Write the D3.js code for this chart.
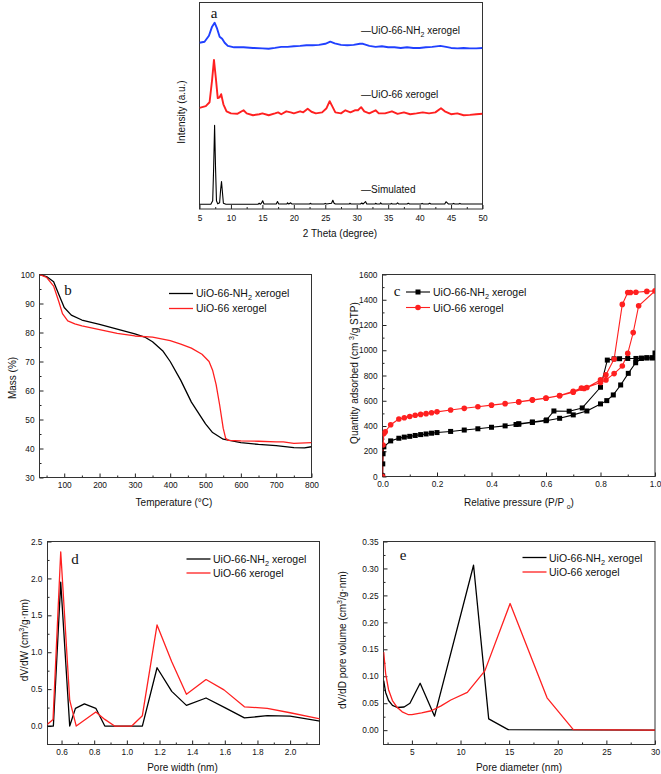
<!DOCTYPE html>
<html><head><meta charset="utf-8">
<script src="https://cdn.jsdelivr.net/npm/d3@7"></script>
<style>
body{margin:0;background:#fff}
text{font-family:"Liberation Sans",Arial,sans-serif;fill:#111}
text.serif{font-family:"Liberation Serif","Times New Roman",serif}
</style>
</head><body>
<svg id="chart" width="661" height="774"></svg>
<script>
// ---------- DATA ----------
// (a) XRD, 2 Theta (degree) vs intensity (a.u.)
const xrdTicks = [5,10,15,20,25,30,35,40,45,50];
const xrdSimulated = [[5,23],[6.8,23],[7.1,40],[7.25,200],[7.4,405],[7.55,200],[7.7,40],[7.9,25],[8.2,30],[8.35,90],[8.5,133],[8.65,80],[8.8,28],[9.2,23],[14.3,23],[14.5,28],[14.7,23],[14.85,28],[15.05,40],[15.25,24],[17.2,24],[17.4,36],[17.6,24],[18.9,24],[19.0,30],[19.2,24],[19.5,30],[19.7,24],[22.5,24],[22.6,28],[22.8,24],[24.8,24],[25.0,27],[25.2,24],[26.0,28],[26.2,42],[26.4,28],[26.6,24],[28.8,24],[28.9,28],[29.1,24],[30.6,24],[30.8,29],[31.0,24],[31.2,30],[31.4,36],[31.6,24],[32.9,24],[33.0,28],[33.2,24],[33.7,24],[33.8,30],[34.0,24],[35.4,24],[35.5,27],[35.7,24],[36.3,24],[36.5,30],[36.7,24],[38.0,24],[38.2,28],[38.4,24],[40.2,24],[40.4,27],[40.6,24],[41.4,24],[41.6,28],[41.8,24],[44.0,24],[44.2,35],[44.4,30],[44.6,24],[45.2,24],[45.4,27],[45.6,24],[46.2,24],[46.4,27],[46.6,24],[50,24]];
const xrdUiO66 = [[5,490],[6,498],[6.6,517],[7.0,624],[7.3,722],[7.6,634],[7.9,537],[8.2,541],[8.45,556],[8.8,507],[9.3,473],[10,463],[11,461],[12,478],[12.5,463],[13.5,454],[14.5,459],[15,463],[16,454],[17,463],[17.5,468],[18,459],[18.8,473],[19.5,468],[20,463],[21,473],[21.5,468],[22.2,485],[22.8,471],[23.5,463],[24.5,468],[25.2,488],[25.7,522],[26.1,498],[26.6,468],[27.5,463],[28.2,478],[29,468],[29.7,478],[30.2,478],[30.7,493],[31.2,473],[32,463],[33,478],[33.5,463],[34.5,463],[35.6,473],[36.5,461],[37.5,468],[38.5,459],[39.5,463],[40.5,468],[41.5,463],[42.5,468],[43.4,488],[44,473],[45,459],[46,463],[47,454],[48,456],[49,459],[50,461]];
const xrdUiO66NH2 = [[5,805],[5.8,810],[6.5,839],[7.0,883],[7.4,902],[7.8,873],[8.2,834],[8.6,824],[9.0,805],[9.5,790],[10.5,783],[12,783],[13.5,780],[15,778],[16,776],[17,780],[18,785],[19,785],[20,788],[21,790],[22,793],[23,793],[24,795],[25,800],[25.8,810],[26.5,802],[27.5,795],[28.5,793],[29.5,795],[30.5,800],[31,800],[32,790],[33,785],[34,788],[35,783],[36,783],[37,780],[38,783],[39,780],[40,780],[41,783],[42,785],[43.3,790],[44.2,785],[45,780],[46,778],[47,780],[48,778],[49,778],[50,780]];

// (b) TGA, temperature (°C) vs mass (%)
const tgaXTicks = [100,200,300,400,500,600,700,800];
const tgaYTicks = [30,40,50,60,70,80,90,100];
const tgaNH2 = [[30,100],[50,99.3],[70,97.5],[85,93],[100,88.6],[120,86],[150,84.3],[200,82.8],[250,81.2],[300,79.5],[330,78.3],[350,76.8],[380,73.5],[400,70],[430,63.5],[460,56],[500,48.5],[520,45.5],[550,43.2],[600,42],[650,41.4],[700,41.0],[750,40.3],[780,40.2],[800,40.6]];
const tgaUiO66 = [[30,100],[50,99],[70,96],[85,90.5],[95,86.5],[110,84],[130,83],[150,82.3],[200,81],[250,79.7],[300,78.8],[350,78.4],[400,77.2],[430,76],[460,74.6],[490,72.5],[510,70],[520,67],[530,62],[540,55],[550,47],[557,43.5],[565,42.8],[600,42.6],[650,42.5],[700,42.3],[720,42.3],[750,41.8],[800,42.0]];

// (c) N2 isotherms, relative pressure vs quantity adsorbed
const isoXTicks = [0,0.2,0.4,0.6,0.8,1.0];
const isoYTicks = [0,200,400,600,800,1000,1200,1400,1600];
const isoNH2 = [[0.0005,5],[0.001,100],[0.002,180],[0.005,235],[0.03,282],[0.06,303],[0.08,312],[0.1,318],[0.12,325],[0.14,332],[0.16,337],[0.18,343],[0.2,348],[0.25,357],[0.3,368],[0.35,378],[0.4,390],[0.45,401],[0.49,412],[0.5,414],[0.55,428],[0.6,442],[0.65,461],[0.7,488],[0.75,519],[0.8,575],[0.823,601],[0.847,646],[0.874,725],[0.902,817],[0.929,901],[0.95,935],[0.97,940],[0.99,940],[1.0,978],[0.99,940],[0.97,940],[0.95,938],[0.93,935],[0.9,935],[0.87,933],[0.85,932],[0.825,922],[0.8,707],[0.733,543],[0.685,517],[0.629,519],[0.602,448],[0.55,432],[0.5,418]];
const isoUiO66 = [[0.0005,0],[0.002,250],[0.005,340],[0.01,355],[0.03,410],[0.06,455],[0.08,465],[0.1,475],[0.12,485],[0.14,492],[0.16,498],[0.18,505],[0.2,512],[0.25,527],[0.3,540],[0.35,553],[0.4,565],[0.45,577],[0.5,590],[0.55,605],[0.6,620],[0.65,640],[0.7,668],[0.74,697],[0.8,745],[0.82,765],[0.85,815],[0.88,875],[0.9,975],[0.92,1140],[0.94,1352],[1.0,1470],[0.97,1466],[0.93,1460],[0.91,1458],[0.9,1458],[0.88,1363],[0.85,930],[0.82,805],[0.8,765],[0.75,705],[0.73,700],[0.7,675],[0.65,642],[0.6,622],[0.55,607],[0.5,592]];

// (d) micropore distribution, pore width (nm) vs dV/dW
const pwXTicks = [0.6,0.8,1.0,1.2,1.4,1.6,1.8,2.0];
const pwYTicks = [0,0.5,1.0,1.5,2.0,2.5];
const pwNH2 = [[0.50,0],[0.55,0],[0.595,1.95],[0.65,0],[0.685,0.24],[0.74,0.30],[0.81,0.24],[0.865,0],[1.095,0],[1.185,0.79],[1.275,0.47],[1.365,0.28],[1.485,0.38],[1.60,0.25],[1.72,0.11],[1.86,0.14],[2.0,0.135],[2.2,0.06]];
const pwUiO66 = [[0.50,0],[0.548,0.09],[0.595,2.36],[0.65,0.35],[0.69,0],[0.81,0.19],[0.865,0.09],[0.925,0],[1.03,0],[1.095,0.14],[1.185,1.37],[1.275,0.87],[1.365,0.43],[1.485,0.63],[1.595,0.49],[1.72,0.26],[1.86,0.24],[2.0,0.18],[2.2,0.09]];

// (e) mesopore distribution, pore diameter (nm) vs dV/dD
const pdXTicks = [5,10,15,20,25,30];
const pdYTicks = [0,0.05,0.10,0.15,0.20,0.25,0.30,0.35];
const pdNH2 = [[2.1,0.092],[2.3,0.07],[2.6,0.055],[3.0,0.046],[3.5,0.042],[4.2,0.043],[4.8,0.05],[5.85,0.087],[7.33,0.026],[11.34,0.306],[12.9,0.021],[14.9,0.001],[22,0.0006],[30,0]];
const pdUiO66 = [[2.1,0.145],[2.3,0.105],[2.6,0.075],[3.0,0.055],[3.5,0.042],[4.0,0.034],[4.6,0.029],[5.0,0.029],[6.0,0.032],[7.0,0.036],[8.0,0.045],[9.0,0.056],[10.7,0.070],[12.5,0.11],[15.1,0.235],[18.9,0.060],[21.6,0.001],[30,0]];

const RED = "#ff2020", BLUE = "#2040ff", BLACK = "#000";

// ---------- DRAWING ----------
const svg = d3.select("#chart");

function panel(cfg){
  const g = svg.append("g");
  const x = d3.scaleLinear().domain(cfg.xd).range([cfg.l, cfg.r]);
  const y = d3.scaleLinear().domain(cfg.yd).range([cfg.b, cfg.t]);
  const id = "clip" + cfg.name;
  svg.append("clipPath").attr("id", id).append("rect")
    .attr("x", cfg.l).attr("y", cfg.t).attr("width", cfg.r - cfg.l).attr("height", cfg.b - cfg.t);
  g.append("g").attr("transform", `translate(0,${cfg.b})`)
    .call(d3.axisBottom(x).tickValues(cfg.xm).tickSize(-2).tickFormat(""))
    .call(a => a.select(".domain").remove());
  g.append("g").attr("transform", `translate(0,${cfg.b})`)
    .call(d3.axisBottom(x).tickValues(cfg.xt).tickSize(-4).tickPadding(cfg.xpad || 5).tickFormat(d3.format(cfg.xf)))
    .call(a => a.select(".domain").remove())
    .call(a => a.selectAll("text").attr("font-size", 8.3));
  if (cfg.yt){
    g.append("g").attr("transform", `translate(${cfg.l},0)`)
      .call(d3.axisLeft(y).tickValues(cfg.ym).tickSize(-2).tickFormat(""))
      .call(a => a.select(".domain").remove());
    g.append("g").attr("transform", `translate(${cfg.l},0)`)
      .call(d3.axisLeft(y).tickValues(cfg.yt).tickSize(-4).tickPadding(5).tickFormat(d3.format(cfg.yf)))
      .call(a => a.select(".domain").remove())
      .call(a => a.selectAll("text").attr("font-size", 8.3));
  }
  g.selectAll(".tick line").attr("stroke", "#222");
  g.append("rect").attr("x", cfg.l).attr("y", cfg.t)
    .attr("width", cfg.r - cfg.l).attr("height", cfg.b - cfg.t)
    .attr("fill", "none").attr("stroke", "#333").attr("stroke-width", 1);
  const plot = g.append("g").attr("clip-path", `url(#${id})`);
  return {x, y, g, plot};
}

function drawLine(p, data, color, w){
  const line = d3.line().x(d => p.x(d[0])).y(d => p.y(d[1]));
  p.plot.append("path").datum(data).attr("d", line)
    .attr("fill", "none").attr("stroke", color).attr("stroke-width", w).attr("stroke-linejoin", "round");
}

function label(txt, x, y, size, opts = {}){
  const t = svg.append("text").attr("x", x).attr("y", y).attr("font-size", size)
    .attr("text-anchor", opts.anchor || "start");
  if (opts.rotate) t.attr("transform", `rotate(-90,${x},${y})`);
  if (opts.serif) t.attr("class", "serif");
  if (Array.isArray(txt)){
    txt.forEach(s => {
      const ts = t.append("tspan").text(s.t);
      if (s.sub) ts.attr("font-size", size * 0.7).attr("dy", size * 0.3);
      if (s.sup) ts.attr("font-size", size * 0.7).attr("dy", -size * 0.4);
      if (s.back) ts.attr("dy", s.back);
    });
  } else t.text(txt);
  return t;
}

function range(a, b, s){ const o = []; for (let v = a; v <= b + 1e-9; v += s) o.push(+v.toFixed(4)); return o; }

// ---- Panel a ----
const pa = panel({name:"a", l:199.5, r:482.5, t:2.5, b:209, xd:[5,50], yd:[0,1000],
  xt: xrdTicks, xm: range(7.5, 47.5, 5), xf: "d", xpad: 6});
drawLine(pa, xrdSimulated, BLACK, 1.1);
drawLine(pa, xrdUiO66, RED, 1.9);
drawLine(pa, xrdUiO66NH2, BLUE, 1.9);
label("a", 214, 18, 15, {serif:true, anchor:"middle"});
label([{t:"—UiO-66-NH"},{t:"2",sub:true},{t:" xerogel",back:-10*0.3}], 361, 33.5, 10);
label("—UiO-66 xerogel", 361, 97.5, 10);
label("—Simulated", 361, 192.5, 10);
label("Intensity (a.u.)", 185, 112, 10, {rotate:true, anchor:"middle"});
label("2 Theta (degree)", 340, 237, 10, {anchor:"middle"});

// ---- Panel b ----
const pb = panel({name:"b", l:39.5, r:311.5, t:274.5, b:477.5, xd:[30,800], yd:[30,100],
  xt: tgaXTicks, xm: range(50, 750, 100), xf: "d", yt: tgaYTicks, ym: range(35, 95, 10), yf: "d"});
drawLine(pb, tgaNH2, BLACK, 1.3);
drawLine(pb, tgaUiO66, RED, 1.3);
label("b", 68, 295, 15, {serif:true, anchor:"middle"});
[[BLACK, 293.5],[RED, 308.5]].forEach(([c,yy]) => {
  svg.append("line").attr("x1",169).attr("x2",193).attr("y1",yy).attr("y2",yy).attr("stroke",c).attr("stroke-width",1.3);
});
label([{t:"UiO-66-NH"},{t:"2",sub:true},{t:" xerogel",back:-10.5*0.3}], 196, 297.3, 10.5);
label("UiO-66 xerogel", 196, 312.3, 10.5);
label("Mass (%)", 16, 378, 10, {rotate:true, anchor:"middle"});
label("Temperature (°C)", 174, 506, 10, {anchor:"middle"});

// ---- Panel c ----
const pc = panel({name:"c", l:382.5, r:655, t:274.5, b:476.5, xd:[0,1], yd:[0,1600],
  xt: isoXTicks, xm: range(0.1, 0.9, 0.2), xf: ".1f", yt: isoYTicks, ym: range(100, 1500, 200), yf: "d"});
drawLine(pc, isoNH2, BLACK, 1.1);
drawLine(pc, isoUiO66, RED, 1.1);
pc.plot.selectAll(".sq").data(isoNH2).join("rect")
  .attr("x", d => pc.x(d[0]) - 2.5).attr("y", d => pc.y(d[1]) - 2.5)
  .attr("width", 5).attr("height", 5).attr("fill", BLACK);
pc.plot.selectAll(".ci").data(isoUiO66).join("circle")
  .attr("cx", d => pc.x(d[0])).attr("cy", d => pc.y(d[1])).attr("r", 2.8).attr("fill", RED);
label("c", 397, 296, 15, {serif:true, anchor:"middle"});
svg.append("line").attr("x1",406).attr("x2",430).attr("y1",292).attr("y2",292).attr("stroke",BLACK).attr("stroke-width",1.1);
svg.append("rect").attr("x",415.5).attr("y",289.5).attr("width",5).attr("height",5).attr("fill",BLACK);
svg.append("line").attr("x1",406).attr("x2",430).attr("y1",307.5).attr("y2",307.5).attr("stroke",RED).attr("stroke-width",1.1);
svg.append("circle").attr("cx",418).attr("cy",307.5).attr("r",2.8).attr("fill",RED);
label([{t:"UiO-66-NH"},{t:"2",sub:true},{t:" xerogel",back:-10.5*0.3}], 433, 296, 10.5);
label("UiO-66 xerogel", 433, 311.5, 10.5);
label([{t:"Quantity adsorbed (cm "},{t:"3",sup:true},{t:"/g STP)",back:10*0.4}], 358, 373, 10, {rotate:true, anchor:"middle"});
label([{t:"Relative pressure (P/P "},{t:"o",sub:true},{t:")",back:-10*0.3}], 519, 505.5, 10, {anchor:"middle"});

// ---- Panel d ----
const pd = panel({name:"d", l:47.5, r:319.5, t:541.5, b:744.5, xd:[0.514,2.18], yd:[-0.25,2.5],
  xt: pwXTicks, xm: range(0.7, 2.1, 0.2), xf: ".1f", yt: pwYTicks, ym: range(0.25, 2.25, 0.5), yf: ".1f"});
drawLine(pd, pwNH2, BLACK, 1.3);
drawLine(pd, pwUiO66, RED, 1.3);
label("d", 75, 564, 15, {serif:true, anchor:"middle"});
svg.append("line").attr("x1",186.5).attr("x2",210.5).attr("y1",559).attr("y2",559).attr("stroke",BLACK).attr("stroke-width",1.3);
svg.append("line").attr("x1",186.5).attr("x2",210.5).attr("y1",573).attr("y2",573).attr("stroke",RED).attr("stroke-width",1.3);
label([{t:"UiO-66-NH"},{t:"2",sub:true},{t:" xerogel",back:-10.5*0.3}], 213, 563, 10.5);
label("UiO-66 xerogel", 213, 577, 10.5);
label([{t:"dV/dW (cm"},{t:"3",sup:true},{t:"/g·nm)",back:10*0.4}], 28, 640, 10, {rotate:true, anchor:"middle"});
label("Pore width (nm)", 182.5, 770.5, 10, {anchor:"middle"});

// ---- Panel e ----
const pe = panel({name:"e", l:383.5, r:655, t:541.5, b:744.5, xd:[2.08,30], yd:[-0.0266,0.35],
  xt: pdXTicks, xm: range(2.5, 27.5, 5), xf: "d", yt: pdYTicks, ym: range(0.025, 0.325, 0.05), yf: ".2f"});
drawLine(pe, pdNH2, BLACK, 1.3);
drawLine(pe, pdUiO66, RED, 1.3);
label("e", 403, 560, 15, {serif:true, anchor:"middle"});
svg.append("line").attr("x1",522.5).attr("x2",546.5).attr("y1",557.5).attr("y2",557.5).attr("stroke",BLACK).attr("stroke-width",1.3);
svg.append("line").attr("x1",522.5).attr("x2",546.5).attr("y1",572).attr("y2",572).attr("stroke",RED).attr("stroke-width",1.3);
label([{t:"UiO-66-NH"},{t:"2",sub:true},{t:" xerogel",back:-10.5*0.3}], 549, 561.5, 10.5);
label("UiO-66 xerogel", 549, 576, 10.5);
label([{t:"dV/dD pore volume (cm"},{t:"3",sup:true},{t:"/g·nm)",back:10*0.4}], 346, 640, 10, {rotate:true, anchor:"middle"});
label("Pore diameter (nm)", 519, 771, 10, {anchor:"middle"});
</script>
</body></html>
